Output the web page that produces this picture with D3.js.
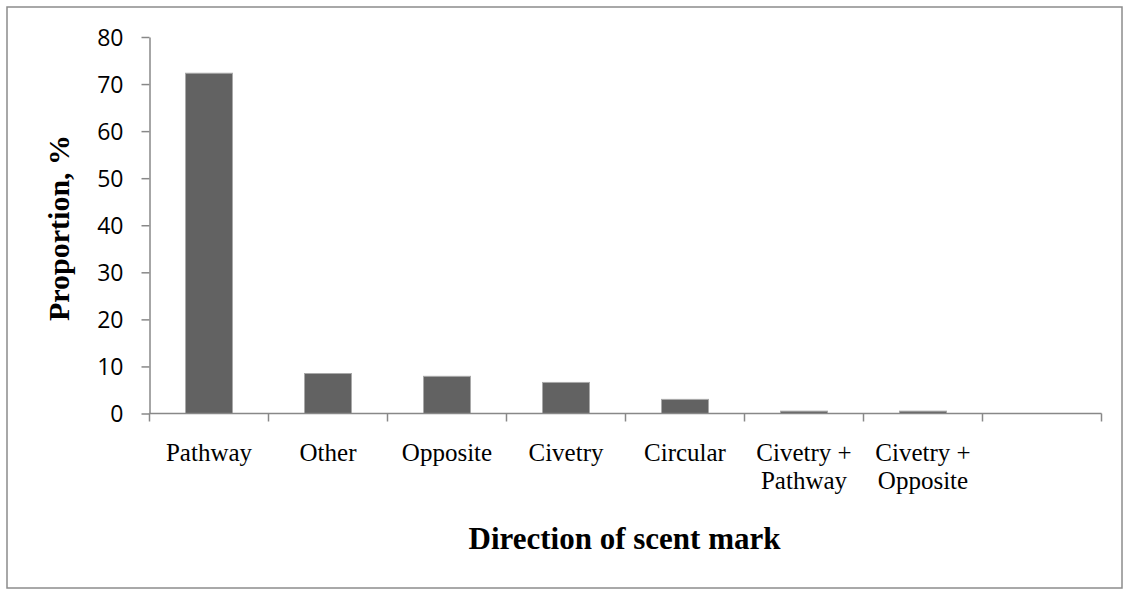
<!DOCTYPE html>
<html lang="en">
<head>
<meta charset="UTF-8">
<title>Direction of scent mark</title>
<script src="https://d3js.org/d3.v7.min.js"></script>
<style>
  body { margin: 0; background: #fff; }
  .frame { fill: none; stroke: #8c8c8c; stroke-width: 1.5px; }
  .axis path, .axis line { stroke: #888; stroke-width: 1.5px; }
  .y-axis text { font-family: "Open Sans", sans-serif; font-size: 23px; fill: #000; }
  .cat-label { font-family: "Liberation Serif", "Times New Roman", serif; font-size: 25px; fill: #000; }
  .title { font-family: "Liberation Serif", "Times New Roman", serif; font-size: 31px; font-weight: bold; }
  .bar { fill: #626262; stroke: #a9a9a9; stroke-width: 1px; }
</style>
</head>
<body>
<svg width="1124" height="590"></svg>
<script>
// data
var categories = ["Pathway", "Other", "Opposite", "Civetry", "Circular",
                  "Civetry +\nPathway", "Civetry +\nOpposite", ""];
var proportion = [72.3, 8.5, 7.9, 6.6, 3.0, 0.5, 0.5, null];
var yTicks = [0, 10, 20, 30, 40, 50, 60, 70, 80];

var svg = d3.select("svg");

svg.append("rect")
    .attr("class", "frame")
    .attr("x", 7).attr("y", 7)
    .attr("width", 1115).attr("height", 581);

var plotLeft = 149.5, plotRight = 1101.5, plotTop = 37, plotBottom = 413.5;

var x = d3.scaleBand()
    .domain(d3.range(categories.length))
    .range([plotLeft, plotRight])
    .paddingInner(0).paddingOuter(0);

var y = d3.scaleLinear()
    .domain([0, 80])
    .range([plotBottom, plotTop]);

// bars
svg.append("g")
  .selectAll("rect")
  .data(proportion.map(function(v, i){ return {v: v, i: i}; }).filter(function(d){ return d.v != null; }))
  .enter().append("rect")
    .attr("class", "bar")
    .attr("x", function(d){ return x(d.i) + x.bandwidth()/2 - 23.5; })
    .attr("width", 47)
    .attr("y", function(d){ return y(d.v); })
    .attr("height", function(d){ return y(0) - y(d.v); });

// y axis
var yAxis = svg.append("g")
    .attr("class", "axis y-axis")
    .attr("transform", "translate(" + plotLeft + ",0)")
    .call(d3.axisLeft(y).tickValues(yTicks).tickSize(8).tickSizeOuter(0).tickPadding(18));
yAxis.selectAll(".tick text").attr("dy", "0.35em");

// x axis: ticks on category boundaries
var xAxis = svg.append("g")
    .attr("class", "axis x-axis")
    .attr("transform", "translate(0," + plotBottom + ")");
xAxis.append("path")
    .attr("d", "M" + plotLeft + ",0H" + plotRight);
xAxis.selectAll("line")
  .data(d3.range(categories.length + 1))
  .enter().append("line")
    .attr("x1", function(i){ return i < categories.length ? x(i) : plotRight; })
    .attr("x2", function(i){ return i < categories.length ? x(i) : plotRight; })
    .attr("y1", 0).attr("y2", 8);

// category labels
var labels = svg.append("g");
categories.forEach(function(c, i){
  var t = labels.append("text")
      .attr("class", "cat-label")
      .attr("text-anchor", "middle")
      .attr("x", x(i) + x.bandwidth()/2)
      .attr("y", 461);
  c.split("\n").forEach(function(line, k){
    t.append("tspan")
      .attr("x", x(i) + x.bandwidth()/2)
      .attr("dy", k === 0 ? 0 : 28)
      .text(line);
  });
});

// axis titles
svg.append("text")
    .attr("class", "title")
    .attr("text-anchor", "middle")
    .attr("x", (plotLeft + plotRight) / 2 - 1)
    .attr("y", 549)
    .text("Direction of scent mark");

svg.append("text")
    .attr("class", "title")
    .attr("text-anchor", "middle")
    .attr("transform", "translate(69," + 228 + ") rotate(-90)")
    .style("font-size", "30px")
    .text("Proportion, %");
</script>
</body>
</html>
